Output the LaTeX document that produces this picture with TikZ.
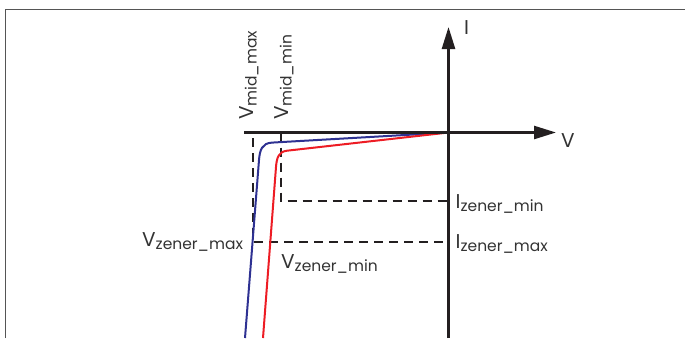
\documentclass[tikz,border=0pt]{standalone}
\usepackage{fontspec}
\setmainfont{Poppins}
\usetikzlibrary{arrows.meta}
\definecolor{axiscol}{HTML}{231F20}
\definecolor{txtcol}{HTML}{333333}
\definecolor{framecol}{HTML}{555555}
\definecolor{bluecurve}{HTML}{2E3192}
\definecolor{redcurve}{HTML}{ED1C24}
\newcommand\sublbl[2]{#1{\fontsize{15.5}{16}\selectfont\raisebox{-3.5pt}{#2}}}
\tikzset{
  axisline/.style={draw=axiscol, line width=2.5pt, -{Triangle[length=22pt,width=13pt]}},
  guide/.style={draw=axiscol, line width=1.6pt, dash pattern=on 9pt off 6pt},
  curve/.style={line width=2pt},
  lbl/.style={inner sep=0pt, text=txtcol, font=\fontsize{20}{22}\selectfont},
  frameline/.style={draw=framecol, line width=1.3pt}
}
\begin{document}
\begin{tikzpicture}[x=1pt,y=-1pt]
\useasboundingbox (0,0) rectangle (685,338);
% frame
\coordinate (fTL) at (5.5,9.5);
\coordinate (fTR) at (685,9.5);
\coordinate (fBL) at (5.5,338);
\draw[frameline] (fBL) -- (fTL) -- (fTR);
% axis coordinates
\coordinate (O) at (448.5,132.5);
\coordinate (Vleft) at (244,132.5);
\coordinate (Vtip) at (556,132.5);
\coordinate (Ibot) at (448.5,338);
\coordinate (Itip) at (448.5,27);
% guide coordinates
\coordinate (midmaxtop) at (253,138);
\coordinate (zmaxcorner) at (253,242);
\coordinate (zmaxaxis) at (448.5,242);
\coordinate (midmintop) at (281,132.5);
\coordinate (zmincorner) at (281,201);
\coordinate (zminaxis) at (448.5,201);
% guides
\draw[guide] (midmaxtop) -- (zmaxcorner) -- (zmaxaxis);
\draw[guide] (midmintop) -- (zmincorner) -- (zminaxis);
% curves
\coordinate (bK1) at (272,142.6);
\coordinate (bK2) at (259,160);
\coordinate (bEnd) at (245,338);
\coordinate (rK1) at (287,150.7);
\coordinate (rK2) at (276,167);
\coordinate (rEnd) at (263,338);
\draw[curve, draw=bluecurve] (O) -- (bK1) .. controls (262,143.2) and (259.8,150) .. (bK2) -- (bEnd);
\draw[curve, draw=redcurve] (O) -- (rK1) .. controls (278.5,151.7) and (276.7,158) .. (rK2) -- (rEnd);
% axes
\draw[axisline] (Vleft) -- (Vtip);
\draw[axisline] (Ibot) -- (Itip);
% labels
\node[lbl, anchor=base west] (Ilab) at (464,34) {I};
\node[lbl, anchor=base west] (Vlab) at (561,147) {V};
\node[lbl, anchor=base west, rotate=90] (vmidmax) at (253,120) {\sublbl{V}{mid\_max}};
\node[lbl, anchor=base west, rotate=90] (vmidmin) at (288,120) {\sublbl{V}{mid\_min}};
\node[lbl, anchor=base west] (vzmax) at (142,246) {\sublbl{V}{zener\_max}};
\node[lbl, anchor=base west] (vzmin) at (281,268) {\sublbl{V}{zener\_min}};
\node[lbl, anchor=base west] (izmin) at (455.5,208) {\sublbl{I}{zener\_min}};
\node[lbl, anchor=base west] (izmax) at (455.5,248) {\sublbl{I}{zener\_max}};
\end{tikzpicture}
\end{document}
